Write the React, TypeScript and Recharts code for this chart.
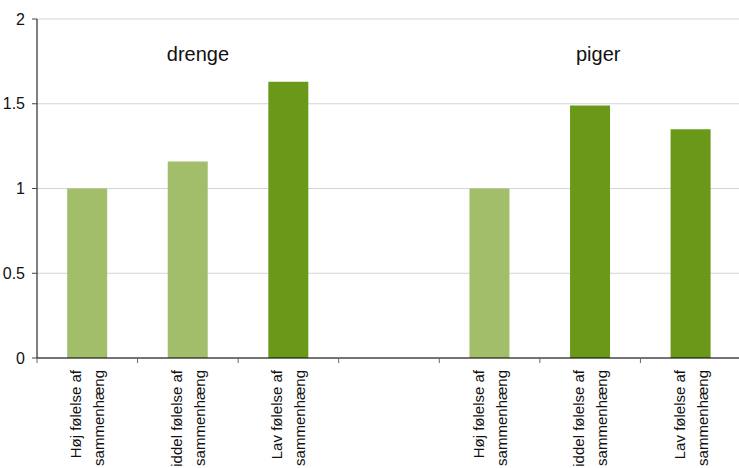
import { Bar, BarChart, CartesianGrid, Cell, ReferenceDot, XAxis, YAxis } from "recharts";

const FONT = "'Liberation Sans', Arial, Helvetica, sans-serif";

// kategorier (tom plads mellem drenge og piger)
const CATEGORY_IDS = ["d1", "d2", "d3", "gap", "p1", "p2", "p3"];
const CATEGORY_LINES: string[][] = [
  ["Høj følelse af", "sammenhæng"],
  ["Middel følelse af", "sammenhæng"],
  ["Lav følelse af", "sammenhæng"],
  [],
  ["Høj følelse af", "sammenhæng"],
  ["Middel følelse af", "sammenhæng"],
  ["Lav følelse af", "sammenhæng"],
];
const VALUES: (number | null)[] = [1, 1.16, 1.63, null, 1, 1.49, 1.35];
const SIGNIFICANT = [false, false, true, false, false, true, true];

const Y_TICKS = [0, 0.5, 1, 1.5, 2];
const SLOT_TICKS = [0, 1, 2, 3, 4, 5, 6, 7];

const GROUPS = [
  { name: "drenge", pos: 1.6 },
  { name: "piger", pos: 5.58 },
];
const GROUP_LABEL_Y = 1.752;

const LIGHT = "#a2be6a";
const DARK = "#6a991a";

const data = CATEGORY_IDS.map((id, i) => ({
  id,
  value: VALUES[i],
  sig: SIGNIFICANT[i],
}));

function CategoryTick({ x, y, index }: { x?: number; y?: number; index?: number }) {
  const lines = CATEGORY_LINES[index ?? 0] || [];
  if (!lines.length) return <g />;
  return (
    <g transform={`translate(${x},${(y ?? 0) + 11}) rotate(-90)`}>
      <text x={0} y={-6} textAnchor="end" fontSize={15} fontFamily={FONT} fill="#111">
        {lines[0]}
      </text>
      <text x={0} y={17} textAnchor="end" fontSize={15} fontFamily={FONT} fill="#111">
        {lines[1]}
      </text>
    </g>
  );
}

const EmptyTick = () => <g />;

function groupLabel(text: string) {
  return (props: any) => {
    const vb = props.viewBox || {};
    const cx = (vb.x ?? 0) + (vb.width ?? 0) / 2;
    const cy = (vb.y ?? 0) + (vb.height ?? 0) / 2;
    return (
      <text x={cx} y={cy} textAnchor="middle" fontSize={20} fontFamily={FONT} fill="#111">
        {text}
      </text>
    );
  };
}

export default function App() {
  return (
    <div
      style={{
        position: "absolute",
        left: 0,
        top: 0,
        width: 739,
        height: 468,
        overflow: "hidden",
        background: "#fff",
      }}
    >
      <BarChart
        width={741}
        height={468}
        data={data}
        margin={{ top: 19, right: 0, left: 0, bottom: 0 }}
        barCategoryGap="30%"
      >
        <CartesianGrid stroke="#d4d4d4" vertical={false} xAxisId="b" />
        <XAxis
          xAxisId="a"
          type="number"
          dataKey="slot"
          domain={[0, 7]}
          allowDataOverflow
          ticks={SLOT_TICKS}
          interval={0}
          height={1}
          axisLine={{ stroke: "#000" }}
          tick={EmptyTick}
          tickSize={5}
          tickLine={{ stroke: "#666" }}
        />
        <XAxis
          xAxisId="b"
          dataKey="id"
          height={109}
          axisLine={false}
          tickLine={false}
          tickSize={0}
          tickMargin={0}
          interval={0}
          tick={<CategoryTick />}
        />
        <YAxis
          domain={[0, 2]}
          ticks={Y_TICKS}
          width={37}
          axisLine={{ stroke: "#000" }}
          tickLine={{ stroke: "#444" }}
          tickSize={5}
          tickMargin={7}
          tick={{ fontSize: 16, fontFamily: FONT, fill: "#111" }}
        />
        <Bar dataKey="value" xAxisId="b" isAnimationActive={false}>
          {data.map((d) => (
            <Cell key={d.id} fill={d.sig ? DARK : LIGHT} />
          ))}
        </Bar>
        {GROUPS.map((g) => (
          <ReferenceDot
            key={g.name}
            xAxisId="a"
            x={g.pos}
            y={GROUP_LABEL_Y}
            r={0}
            fill="none"
            stroke="none"
            ifOverflow="visible"
            label={groupLabel(g.name)}
          />
        ))}
      </BarChart>
    </div>
  );
}
